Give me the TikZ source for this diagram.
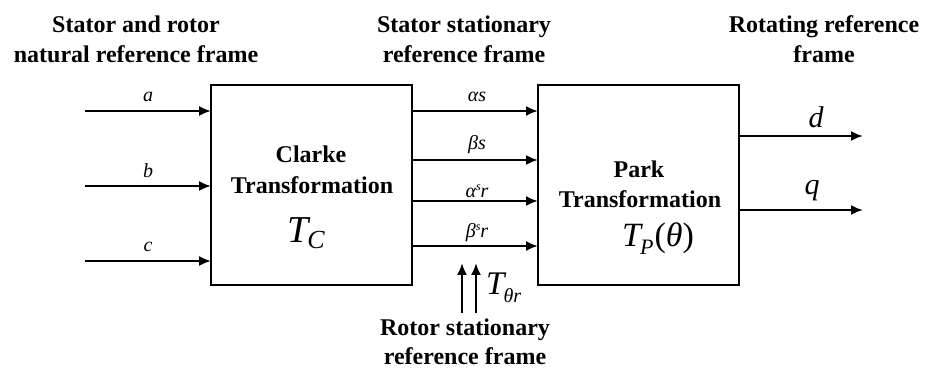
\documentclass[tikz,border=0pt]{standalone}
\usepackage{fontspec}
\setmainfont{Liberation Serif}
\usetikzlibrary{arrows.meta}
\begin{document}
\begin{tikzpicture}[x=1pt,y=-1pt,
  box/.style={draw,line width=2pt,minimum width=201pt,minimum height=200pt,inner sep=0pt,outer sep=0pt},
  arr/.style={line width=2pt,-{Latex[length=12pt,width=10pt]}},
  hdr/.style={font=\fontsize{24}{30}\selectfont\bfseries,anchor=base,inner sep=0pt},
  lbl/.style={font=\fontsize{20}{20}\selectfont\itshape,anchor=base,inner sep=0pt},
  big/.style={font=\fontsize{30}{30}\selectfont\itshape,anchor=base,inner sep=0pt}]
\useasboundingbox (0,0) rectangle (927,371);
% boxes
\node[box] (clarke) at (311.5,185) {};
\node[box] (park) at (638.5,185) {};
% headers
\node[hdr] (h1a) at (136,33) {Stator and rotor};
\node[hdr] (h1b) at (136,63) {natural reference frame};
\node[hdr] (h2a) at (464,33) {Stator stationary};
\node[hdr] (h2b) at (464,63) {reference frame};
\node[hdr] (h3a) at (824,33) {Rotating reference};
\node[hdr] (h3b) at (824,63) {frame};
\node[hdr] (h4a) at (465,336) {Rotor stationary};
\node[hdr] (h4b) at (465,365) {reference frame};
% box texts
\node[hdr] (ct1) at (311,163) {Clarke};
\node[hdr] (ct2) at (312,194) {Transformation};
\node[anchor=base west,inner sep=0pt] (tc) at (287,243) {\fontsize{38}{38}\selectfont\itshape T\kern-1pt\raisebox{-6pt}{\fontsize{26}{26}\selectfont C}};
\node[hdr] (pt1) at (639,178) {Park};
\node[hdr] (pt2) at (640,208) {Transformation};
\node[anchor=base west,inner sep=0pt] (tp) at (622,247) {\fontsize{34}{34}\selectfont\itshape T\kern-1pt\raisebox{-8pt}{\fontsize{22}{22}\selectfont P}\kern1pt\upshape(\itshape θ\upshape)};
% inputs
\coordinate (ina) at (85,111);
\coordinate (inb) at (85,186);
\coordinate (inc) at (85,261);
\draw[arr] (ina) -- (ina -| clarke.west);
\draw[arr] (inb) -- (inb -| clarke.west);
\draw[arr] (inc) -- (inc -| clarke.west);
\node[lbl] (la) at (148,102) {a};
\node[lbl] (lb) at (148,178) {b};
\node[lbl] (lc) at (148,252) {c};
% middle
\coordinate (m1) at (412,111);
\coordinate (m2) at (412,160);
\coordinate (m3) at (412,201);
\coordinate (m4) at (412,246);
\draw[arr] (m1 -| clarke.east) -- (m1 -| park.west);
\draw[arr] (m2 -| clarke.east) -- (m2 -| park.west);
\draw[arr] (m3 -| clarke.east) -- (m3 -| park.west);
\draw[arr] (m4 -| clarke.east) -- (m4 -| park.west);
\node[lbl] (l1) at (477,102) {αs};
\node[lbl] (l2) at (477,150) {βs};
\node[lbl] (l3) at (477,198) {α\raisebox{7pt}{\fontsize{12}{12}\selectfont s}r};
\node[lbl] (l4) at (477,238) {β\raisebox{7pt}{\fontsize{12}{12}\selectfont s}r};
% up arrows
\coordinate (u1s) at (462,313);
\coordinate (u1e) at (462,263);
\coordinate (u2s) at (476,313);
\coordinate (u2e) at (476,263);
\draw[arr] (u1s) -- (u1e);
\draw[arr] (u2s) -- (u2e);
\node[anchor=base west,inner sep=0pt] (tth) at (486,295) {\fontsize{33}{33}\selectfont\itshape T\kern-1pt\raisebox{-8pt}{\fontsize{20}{20}\selectfont θr}};
% outputs
\coordinate (od) at (863,136);
\coordinate (oq) at (863,210);
\draw[arr] (od -| park.east) -- (od);
\draw[arr] (oq -| park.east) -- (oq);
\node[big] (ld) at (816,128) {d};
\node[big] (lq) at (812,195) {q};
\end{tikzpicture}
\end{document}
